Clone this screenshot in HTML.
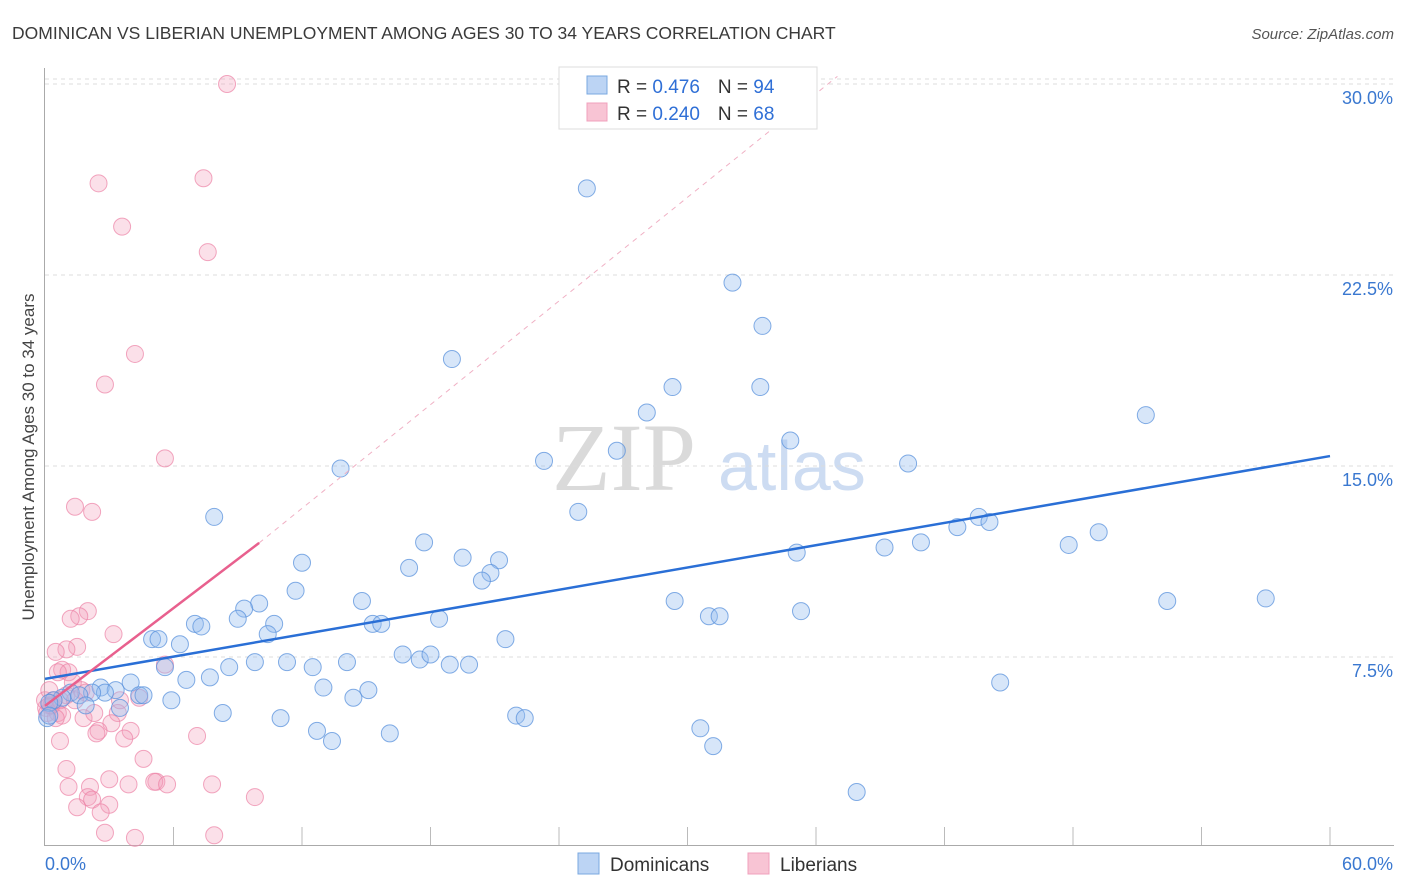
<!DOCTYPE html>
<html><head><meta charset="utf-8"><style>
body{margin:0;background:#fff;font-family:"Liberation Sans",sans-serif}
</style></head><body>
<svg id="chart" width="1406" height="892" xmlns="http://www.w3.org/2000/svg" style="display:block">
<text x="12" y="39" font-size="17.5" fill="#3a3a3a">DOMINICAN VS LIBERIAN UNEMPLOYMENT AMONG AGES 30 TO 34 YEARS CORRELATION CHART</text>
<text x="1394" y="39" font-size="15" fill="#555" font-style="italic" text-anchor="end">Source: ZipAtlas.com</text>
<g>
<text x="552" y="490" font-size="96" fill="#dadada" font-family="Liberation Serif,serif">ZIP</text>
<text x="718" y="490" font-size="70" fill="#cddcf2">atlas</text>
</g>
<g id="grid"></g>
<g id="axes"></g>
<g id="pts"></g>
<g id="trends"></g>
<text transform="translate(34,457) rotate(-90)" font-size="17" fill="#444" text-anchor="middle">Unemployment Among Ages 30 to 34 years</text>
<g>
<rect x="559" y="67" width="258" height="62" fill="#fff" stroke="#ddd"/>
<rect x="587" y="76" width="20" height="18" fill="#bcd4f4" stroke="#7aa8e0"/>
<rect x="587" y="103" width="20" height="18" fill="#f8c4d4" stroke="#f0a0bc"/>
<text x="617" y="93" font-size="19" fill="#333">R = <tspan fill="#2f6fd6">0.476</tspan><tspan dx="18">N = </tspan><tspan fill="#2f6fd6">94</tspan></text>
<text x="617" y="120" font-size="19" fill="#333">R = <tspan fill="#2f6fd6">0.240</tspan><tspan dx="18">N = </tspan><tspan fill="#2f6fd6">68</tspan></text>
</g>
<g>
<rect x="578" y="853" width="21" height="21" fill="#bcd4f4" stroke="#7aa8e0"/>
<text x="610" y="871" font-size="19" fill="#333">Dominicans</text>
<rect x="748" y="853" width="21" height="21" fill="#f8c4d4" stroke="#f0a0bc"/>
<text x="780" y="871" font-size="19" fill="#333">Liberians</text>
</g>
</svg>
<script>
const yTicks=[7.5,15,22.5,30];
const yTickLabels=["7.5%","15.0%","22.5%","30.0%"];
const xTickLabels=["0.0%","60.0%"];
const blueX=[25.3,32.1,33.5,19.0,29.3,33.4,28.1,51.4,34.8,23.3,26.7,40.3,13.8,7.9,24.9,43.6,44.1,42.6,17.7,19.5,21.2,17.0,20.8,20.4,12.0,11.7,40.9,39.2,35.1,47.8,49.2,10.0,9.3,9.0,10.7,10.4,7.0,7.3,14.8,15.3,15.7,18.4,21.5,29.4,31.0,31.5,35.3,52.4,57.0,5.0,5.3,6.3,5.6,7.7,8.6,9.8,11.3,12.5,14.1,16.7,17.5,18.0,18.9,19.8,44.6,6.6,4.0,2.6,3.3,4.4,4.6,2.8,2.2,1.2,1.6,0.8,0.4,0.2,5.9,13.0,15.1,14.4,8.3,11.0,12.7,13.4,16.1,22.0,22.4,30.6,31.2,37.9,0.1,0.2,3.5,1.9];
const blueY=[25.9,22.2,20.5,19.2,18.1,18.1,17.1,17.0,16.0,15.2,15.6,15.1,14.9,13.0,13.2,13.0,12.8,12.6,12.0,11.4,11.3,11.0,10.8,10.5,11.2,10.1,12.0,11.8,11.6,11.9,12.4,9.6,9.4,9.0,8.8,8.4,8.8,8.7,9.7,8.8,8.8,9.0,8.2,9.7,9.1,9.1,9.3,9.7,9.8,8.2,8.2,8.0,7.1,6.7,7.1,7.3,7.3,7.1,7.3,7.6,7.4,7.6,7.2,7.2,6.5,6.6,6.5,6.3,6.2,6.0,6.0,6.1,6.1,6.1,6.0,5.9,5.8,5.7,5.8,6.3,6.2,5.9,5.3,5.1,4.6,4.2,4.5,5.2,5.1,4.7,4.0,2.2,5.1,5.2,5.5,5.6];
const pinkX=[8.5,2.5,7.4,3.6,7.6,4.2,2.8,5.6,1.4,2.2,2.0,1.6,1.2,1.5,3.2,1.0,0.5,0.8,1.1,0.6,5.6,1.3,1.7,1.9,0.4,0.2,0.05,0.1,0.6,0.8,0.5,1.0,4.4,1.8,2.3,3.4,3.1,2.5,2.4,4.0,3.7,7.1,0.7,4.6,1.0,3.0,1.1,5.2,5.1,5.7,3.9,7.8,2.1,2.0,2.2,1.5,3.0,2.6,9.8,2.8,4.2,7.9,0.3,0.7,1.4,0,0.2,3.5];
const pinkY=[30.0,26.1,26.3,24.4,23.4,19.4,18.2,15.3,13.4,13.2,9.3,9.1,9.0,7.9,8.4,7.8,7.7,7.0,6.9,6.9,7.2,6.5,6.2,6.1,5.8,5.6,5.5,5.3,5.3,5.2,5.1,6.0,5.9,5.1,5.3,5.3,4.9,4.6,4.5,4.6,4.3,4.4,4.2,3.5,3.1,2.7,2.4,2.6,2.6,2.5,2.5,2.5,2.4,2.0,1.9,1.6,1.7,1.4,2.0,0.6,0.4,0.5,5.6,5.8,5.8,5.8,6.2,5.8];
const blueTrend=[[0,6.64],[60,15.39]];
const pinkTrend=[[0,5.58],[10,11.98]];
const pinkDash=[[10,11.98],[37,30.3]];
const NS="http://www.w3.org/2000/svg";
const X=v=>45+v/60*1285, Y=v=>848-v/7.5*191;
function mk(t,a,p){const e=document.createElementNS(NS,t);for(const k in a)e.setAttribute(k,a[k]);p.appendChild(e);return e;}
const grid=document.getElementById('grid'),axes=document.getElementById('axes');
yTicks.forEach((t,i)=>{
 const l=mk('line',{x1:45,x2:1394,y1:Y(t),y2:Y(t),stroke:'#dcdcdc','stroke-dasharray':'4,4'},grid);
 
 
 const tx=mk('text',{x:1393,y:Y(t)+20,'font-size':18,fill:'#3a78d0','text-anchor':'end'},axes);
 tx.textContent=yTickLabels[i];
 
 
});
const tl=mk('line',{x1:45,x2:1394,y1:79,y2:79,stroke:'#dcdcdc','stroke-dasharray':'4,4'},grid);


const ya=mk('line',{x1:44.5,x2:44.5,y1:68,y2:845,stroke:'#aaa'},axes);


const xa=mk('line',{x1:44,x2:1394,y1:845.5,y2:845.5,stroke:'#aaa'},axes);


for(let i=1;i<=10;i++){const tk=mk('line',{x1:X(i*6),x2:X(i*6),y1:827,y2:845,stroke:'#bbb'},axes);
 
 }
[[0,'start',45],[60,'end',1393]].forEach((d,i)=>{const t=mk('text',{x:d[2],y:870,'font-size':18,fill:'#3a78d0','text-anchor':d[1]},axes);t.textContent=xTickLabels[i];
 
 });
const pts=document.getElementById('pts');
pinkX.forEach((x,i)=>{const c=mk('circle',{cx:X(x),cy:Y(pinkY[i]),r:8.5,fill:'rgba(244,160,188,0.32)',stroke:'rgba(236,130,165,0.7)','stroke-width':1},pts);
 
 });
blueX.forEach((x,i)=>{const c=mk('circle',{cx:X(x),cy:Y(blueY[i]),r:8.5,fill:'rgba(150,190,240,0.38)',stroke:'rgba(90,145,220,0.75)','stroke-width':1},pts);
 
 });
const tr=document.getElementById('trends');
const d1=mk('line',{x1:X(pinkDash[0][0]),y1:Y(pinkDash[0][1]),x2:X(pinkDash[1][0]),y2:Y(pinkDash[1][1]),stroke:'#f0b0c4','stroke-dasharray':'5,5','stroke-width':1},tr);


const b=mk('line',{x1:X(blueTrend[0][0]),y1:Y(blueTrend[0][1]),x2:X(blueTrend[1][0]),y2:Y(blueTrend[1][1]),stroke:'#2a6fd6','stroke-width':2.5},tr);


const p=mk('line',{x1:X(pinkTrend[0][0]),y1:Y(pinkTrend[0][1]),x2:X(pinkTrend[1][0]),y2:Y(pinkTrend[1][1]),stroke:'#e8608e','stroke-width':2.5},tr);


</script>
</body></html>
